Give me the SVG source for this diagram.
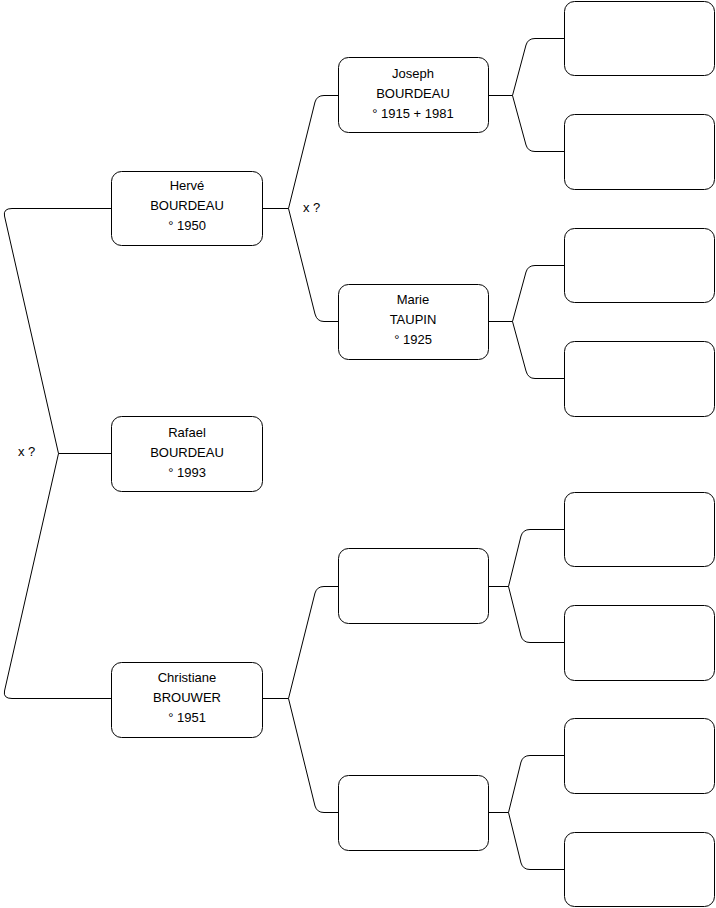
<svg xmlns="http://www.w3.org/2000/svg" width="716" height="908" viewBox="0 0 716 908">
<style>
.box{fill:#fff;stroke:#000;stroke-width:1}
.ln{fill:none;stroke:#000;stroke-width:1}
text{font-family:"Liberation Sans",Arial,sans-serif;font-size:13px;fill:#000;text-anchor:middle}
.lbl{text-anchor:start}
</style>
<rect width="716" height="908" fill="#fff"/>
<g id="connectors">
<path class="ln" d="M111.5 208.5 H12 Q3 208.5 4.5 216 L58.5 453.5 L4.5 691 Q3 698.5 12 698.5 H111.5"/>
<path class="ln" d="M58.5 453.5 H111.5"/>
<path class="ln" d="M262.5 208.5 H288.5 L315 102 Q317 95.5 324 95.5 H338.5"/>
<path class="ln" d="M288.5 208.5 L315 314 Q317 321.5 324 321.5 H338.5"/>
<path class="ln" d="M262.5 698.5 H288.5 L315 593 Q317 586.5 324 586.5 H338.5"/>
<path class="ln" d="M288.5 698.5 L315 806 Q317 812.5 324 812.5 H338.5"/>
<path class="ln" d="M488.5 95.5 H512.5 L526 45 Q528 38.5 535 38.5 H564.5"/>
<path class="ln" d="M512.5 95.5 L526 145 Q528 151.5 535 151.5 H564.5"/>
<path class="ln" d="M488.5 321.5 H512.5 L526 272 Q528 265.5 535 265.5 H564.5"/>
<path class="ln" d="M512.5 321.5 L526 371 Q528 378.5 535 378.5 H564.5"/>
<path class="ln" d="M488.5 586.5 H508.5 L521 536 Q523 529.5 530 529.5 H564.5"/>
<path class="ln" d="M508.5 586.5 L521 636 Q523 642.5 530 642.5 H564.5"/>
<path class="ln" d="M488.5 812.5 H508.5 L521 762 Q523 755.5 530 755.5 H564.5"/>
<path class="ln" d="M508.5 812.5 L521 863 Q523 869.5 530 869.5 H564.5"/>
</g>
<g id="label-x1"><text class="lbl" x="303" y="212">x ?</text></g>
<g id="label-x2"><text class="lbl" x="18" y="456">x ?</text></g>
<g id="herve"><rect class="box" x="111.5" y="171.5" width="151" height="74" rx="10"/>
<text x="187" y="190">Hervé</text><text x="187" y="210">BOURDEAU</text><text x="187" y="230">° 1950</text></g>
<g id="rafael"><rect class="box" x="111.5" y="416.5" width="151" height="75" rx="10"/>
<text x="187" y="437">Rafael</text><text x="187" y="457">BOURDEAU</text><text x="187" y="477">° 1993</text></g>
<g id="christiane"><rect class="box" x="111.5" y="662.5" width="151" height="75" rx="10"/>
<text x="187" y="682">Christiane</text><text x="187" y="702">BROUWER</text><text x="187" y="722">° 1951</text></g>
<g id="joseph"><rect class="box" x="338.5" y="57.5" width="150" height="75" rx="10"/>
<text x="413" y="78">Joseph</text><text x="413" y="98">BOURDEAU</text><text x="413" y="118">° 1915 + 1981</text></g>
<g id="marie"><rect class="box" x="338.5" y="284.5" width="150" height="75" rx="10"/>
<text x="413" y="304">Marie</text><text x="413" y="324">TAUPIN</text><text x="413" y="344">° 1925</text></g>
<g id="father-c"><rect class="box" x="338.5" y="548.5" width="150" height="75" rx="10"/></g>
<g id="mother-c"><rect class="box" x="338.5" y="775.5" width="150" height="75" rx="10"/></g>
<g id="gg1"><rect class="box" x="564.5" y="1.5" width="150" height="74" rx="10"/></g>
<g id="gg2"><rect class="box" x="564.5" y="114.5" width="150" height="75" rx="10"/></g>
<g id="gg3"><rect class="box" x="564.5" y="228.5" width="150" height="74" rx="10"/></g>
<g id="gg4"><rect class="box" x="564.5" y="341.5" width="150" height="75" rx="10"/></g>
<g id="gg5"><rect class="box" x="564.5" y="492.5" width="150" height="74" rx="10"/></g>
<g id="gg6"><rect class="box" x="564.5" y="605.5" width="150" height="75" rx="10"/></g>
<g id="gg7"><rect class="box" x="564.5" y="718.5" width="150" height="75" rx="10"/></g>
<g id="gg8"><rect class="box" x="564.5" y="832.5" width="150" height="74" rx="10"/></g>
</svg>
